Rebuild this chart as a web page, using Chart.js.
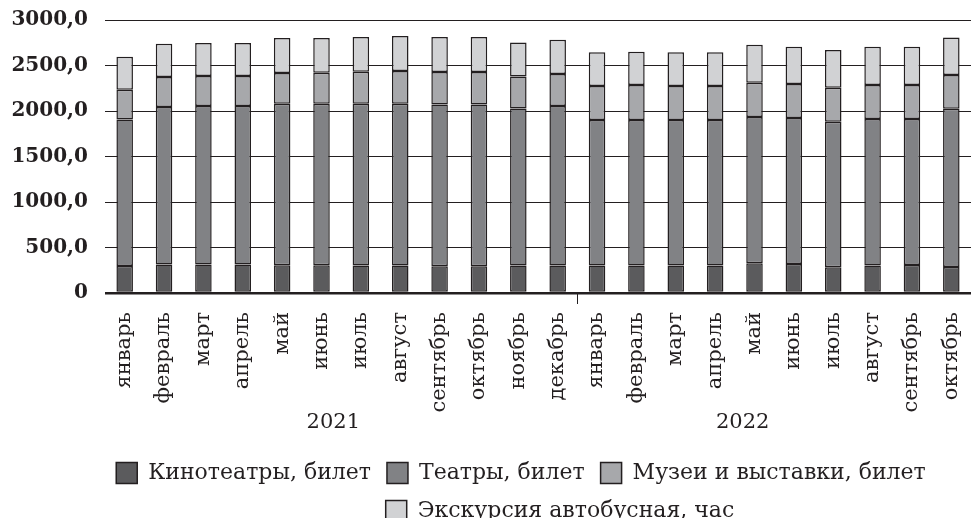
<!DOCTYPE html>
<html>
<head>
<meta charset="utf-8">
<script src="https://cdn.jsdelivr.net/npm/chart.js@4/dist/chart.umd.min.js"></script>
<style>
  html, body { margin: 0; padding: 0; background: #fff; }
  #wrap { width: 971px; height: 518px; }
</style>
</head>
<body>
<div id="wrap"><canvas id="myChart"></canvas></div>
<script>
const ctx = document.getElementById('myChart');

const months = [
  'январь', 'февраль', 'март', 'апрель', 'май', 'июнь', 'июль', 'август',
  'сентябрь', 'октябрь', 'ноябрь', 'декабрь',
  'январь', 'февраль', 'март', 'апрель', 'май', 'июнь', 'июль', 'август',
  'сентябрь', 'октябрь'
];
const years = ['2021', '2022'];
const yearFirstMonth = [0, 12];

const cinema =  [297, 312, 312, 312, 305, 305, 301, 301, 294, 294, 301, 301,
                 301, 301, 301, 301, 327, 319, 283, 301, 308, 286];
const theatre = [1610, 1731, 1742, 1742, 1774, 1774, 1778, 1778, 1778, 1778, 1727, 1753,
                 1599, 1599, 1599, 1599, 1606, 1603, 1598, 1610, 1603, 1738];
const museum =  [326, 330, 330, 330, 338, 341, 352, 360, 356, 356, 352, 352,
                 374, 385, 374, 374, 377, 374, 374, 374, 374, 371];
const tour =    [363, 366, 363, 363, 385, 382, 382, 385, 385, 385, 374, 377,
                 371, 367, 371, 371, 418, 410, 415, 421, 421, 414];

const ink = '#231f20';
const font = 'DejaVu Serif';
Chart.defaults.color = ink;
Chart.defaults.font.family = font;

// подписи годов и разделитель под осью
const yearPlugin = {
  id: 'years',
  afterLayout(chart) {
    // строки легенды в оригинале центрированы чуть иначе
    const lg = chart.legend;
    if (lg && lg.lineWidths && lg.lineWidths.length > 1) {
      lg.lineWidths[0] += 34;
      lg.lineWidths[1] -= 44;
    }
  },
  afterDraw(chart) {
    const x = chart.scales.x;
    const c = chart.ctx;
    const step = x.getPixelForValue(1) - x.getPixelForValue(0);
    c.save();
    c.strokeStyle = ink;
    c.lineWidth = 1;
    for (let i = 1; i < yearFirstMonth.length; i++) {
      const sx = Math.round(x.getPixelForValue(yearFirstMonth[i]) - step / 2) + 0.5;
      c.beginPath();
      c.moveTo(sx, x.top);
      c.lineTo(sx, x.top + 11);
      c.stroke();
    }
    c.fillStyle = ink;
    c.font = '21px ' + font;
    c.textAlign = 'center';
    c.textBaseline = 'middle';
    const pos = [5.3, 15.7];
    years.forEach((y, i) => {
      const px = x.getPixelForValue(0) + pos[i] * step;
      c.fillText(y, px, x.bottom - 23);
    });
    c.restore();
  }
};

function ds(label, data, color) {
  return {
    label: label,
    data: data,
    backgroundColor: color,
    borderColor: ink,
    borderWidth: 1.5,
    borderSkipped: false,
    barPercentage: 0.42,
    categoryPercentage: 1
  };
}

new Chart(ctx, {
  type: 'bar',
  data: {
    labels: months,
    datasets: [
      ds('Кинотеатры, билет', cinema, '#5b5b5d'),
      ds('Театры, билет', theatre, '#818285'),
      ds('Музеи и выставки, билет', museum, '#a7a8ab'),
      ds('Экскурсия автобусная, час', tour, '#d1d2d4')
    ]
  },
  plugins: [yearPlugin],
  options: {
    responsive: true,
    maintainAspectRatio: false,
    animation: false,
    layout: { padding: { top: 0, left: 0, right: 0, bottom: -14 } },
    plugins: {
      tooltip: { enabled: false },
      legend: {
        position: 'bottom',
        fullSize: false,
        labels: {
          boxWidth: 21,
          boxHeight: 21,
          padding: 16,
          font: { size: 22, family: font }
        }
      }
    },
    scales: {
      x: {
        stacked: true,
        grid: { display: false, drawTicks: false },
        border: { display: false },
        ticks: {
          minRotation: 90,
          maxRotation: 90,
          autoSkip: false,
          padding: 19,
          font: { size: 21, family: font }
        },
        afterFit(scale) {
          scale.height = 153;
          scale.paddingLeft = 0;
          scale.paddingRight = 0;
        }
      },
      y: {
        stacked: true,
        min: 0,
        max: 3000,
        grid: {
          color: ink,
          lineWidth: (c) => c.tick && c.tick.value === 0 ? 2.5 : 1,
          drawTicks: false
        },
        border: { display: false },
        ticks: {
          stepSize: 500,
          padding: 17,
          font: { size: 20, family: font, weight: 'bold' },
          callback: (v) => v === 0 ? '0' : v.toFixed(1).replace('.', ',')
        },
        afterFit(scale) {
          scale.width = 105;
          scale.paddingTop = 20;
          scale.paddingBottom = 0;
        }
      }
    }
  }
});
</script>
</body>
</html>
